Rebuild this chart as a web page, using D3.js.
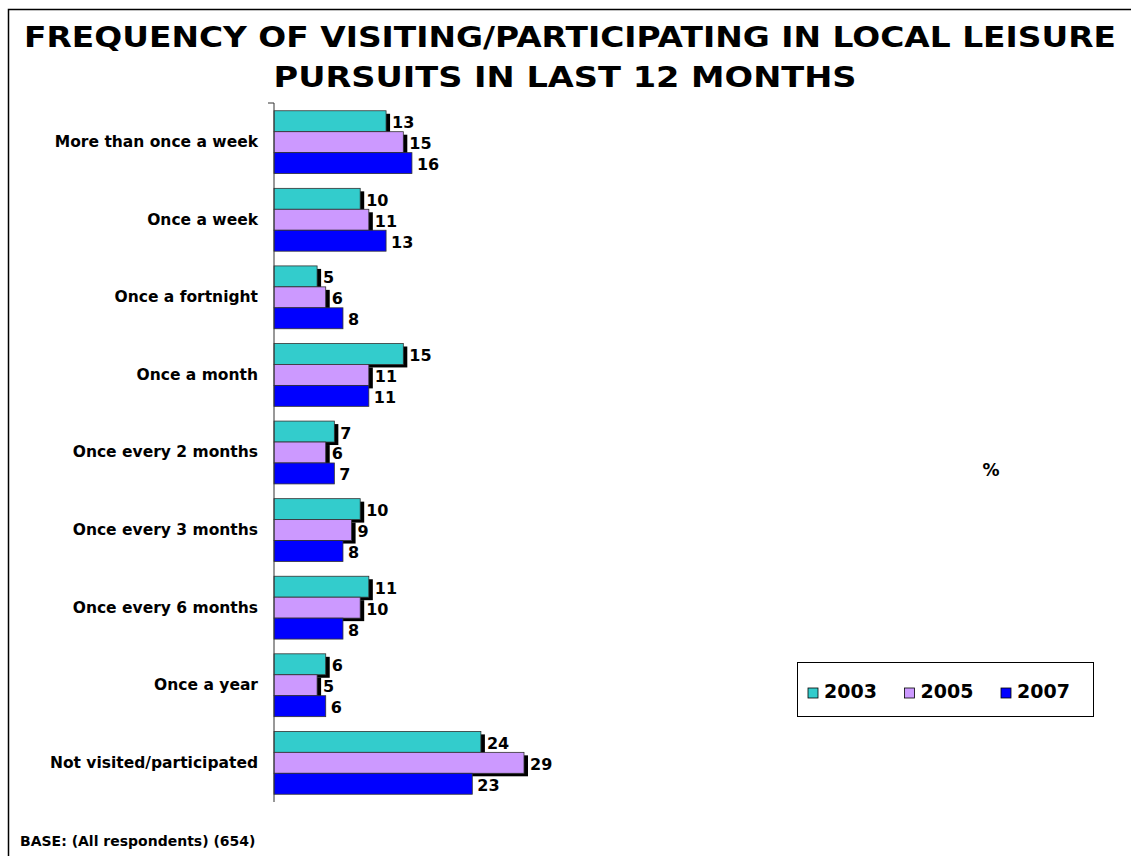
<!DOCTYPE html>
<html>
<head>
<meta charset="utf-8">
<script src="https://cdn.jsdelivr.net/npm/d3@7"></script>
<style>
  body { margin: 0; background: #fff; }
  text { font-family: 'DejaVu Sans', Verdana, sans-serif; font-weight: bold; fill: #000; }
</style>
</head>
<body>
<div id="app"></div>
<script>
/* global d3 */

// Data
const categories = [
  'More than once a week',
  'Once a week',
  'Once a fortnight',
  'Once a month',
  'Once every 2 months',
  'Once every 3 months',
  'Once every 6 months',
  'Once a year',
  'Not visited/participated',
];
const years = ['2003', '2005', '2007'];
const values2003 = [13, 10, 5, 15, 7, 10, 11, 6, 24];
const values2005 = [15, 11, 6, 11, 6, 9, 10, 5, 29];
const values2007 = [16, 13, 8, 11, 7, 8, 8, 6, 23];
const colors = ['#33CCCC', '#CC99FF', '#0000FF'];

// Constants
const width = 1131;
const height = 856;
const axisX = 274;
const plotTop = 103;
const plotBottom = 802;

const series = [values2003, values2005, values2007];

const svg = d3.select('#app')
  .append('svg')
  .attr('width', width)
  .attr('height', height);

// Frame
svg.append('rect')
  .attr('x', 8.5)
  .attr('y', 9.5)
  .attr('width', width)
  .attr('height', height)
  .attr('fill', 'none')
  .attr('stroke', '#000')
  .attr('stroke-width', 1.5);

// Title
svg.append('text')
  .attr('x', 570)
  .attr('y', 47)
  .attr('text-anchor', 'middle')
  .attr('textLength', 1092)
  .attr('lengthAdjust', 'spacingAndGlyphs')
  .style('font-size', '29px')
  .text('FREQUENCY OF VISITING/PARTICIPATING IN LOCAL LEISURE');
svg.append('text')
  .attr('x', 565)
  .attr('y', 87)
  .attr('text-anchor', 'middle')
  .attr('textLength', 583)
  .attr('lengthAdjust', 'spacingAndGlyphs')
  .style('font-size', '29px')
  .text('PURSUITS IN LAST 12 MONTHS');

// Scales
const xScale = d3.scaleLinear()
  .domain([0, 29])
  .range([axisX, 524]);

const yScale = d3.scaleBand()
  .domain(categories)
  .range([plotTop, plotBottom])
  .paddingInner(0.19)
  .paddingOuter(0.1);

const ySub = d3.scaleBand()
  .domain(years)
  .range([0, yScale.bandwidth()]);

// Bars
const groups = svg.append('g')
  .selectAll('g')
  .data(categories)
  .join('g')
  .attr('transform', (d) => `translate(0, ${yScale(d)})`);

// Shadows behind the first two series
years.forEach((yr, s) => {
  if (s < 2) {
    groups.append('rect')
      .attr('x', xScale(0) + 4)
      .attr('y', ySub(yr) + 3)
      .attr('width', (d, i) => xScale(series[s][i]) - xScale(0))
      .attr('height', ySub.bandwidth())
      .attr('fill', '#000');
  }
});

years.forEach((yr, s) => {
  groups.append('rect')
    .attr('x', xScale(0))
    .attr('y', ySub(yr))
    .attr('width', (d, i) => xScale(series[s][i]) - xScale(0))
    .attr('height', ySub.bandwidth())
    .attr('fill', colors[s])
    .attr('stroke', '#333')
    .attr('stroke-width', 0.8);

  groups.append('text')
    .attr('x', (d, i) => xScale(series[s][i]) + (s < 2 ? 6 : 5))
    .attr('y', ySub(yr) + ySub.bandwidth() / 2 + 7)
    .style('font-size', '16px')
    .text((d, i) => series[s][i]);
});

// Axis
const yAxis = d3.axisLeft(yScale).tickSize(0).tickPadding(16);
const axisG = svg.append('g')
  .attr('transform', `translate(${axisX}, 0)`)
  .call(yAxis);
axisG.select('.domain').remove();
axisG.selectAll('text')
  .style('font-size', '15.5px')
  .style('font-family', "'DejaVu Sans', Verdana, sans-serif")
  .style('font-weight', 'bold');
svg.append('path')
  .attr('d', `M${axisX - 6},${plotTop}H${axisX}V${plotBottom}`)
  .attr('fill', 'none')
  .attr('stroke', '#333')
  .attr('stroke-width', 1);

// Percent sign
svg.append('text')
  .attr('x', 991)
  .attr('y', 476)
  .attr('text-anchor', 'middle')
  .style('font-size', '17px')
  .text('%');

// Legend
const legend = svg.append('g')
  .attr('transform', 'translate(797, 662)');
legend.append('rect')
  .attr('x', 0.5)
  .attr('y', 0.5)
  .attr('width', 296)
  .attr('height', 54)
  .attr('fill', '#fff')
  .attr('stroke', '#000');
const legItem = legend.selectAll('g.item')
  .data(years)
  .join('g')
  .attr('class', 'item')
  .attr('transform', (d, i) => `translate(${11 + i * 96.5}, 26)`);
legItem.append('rect')
  .attr('width', 10)
  .attr('height', 10)
  .attr('fill', (d, i) => colors[i])
  .attr('stroke', '#000')
  .attr('stroke-width', 0.8);
legItem.append('text')
  .attr('x', 16)
  .attr('y', 10)
  .style('font-size', '19px')
  .text((d) => d);

// Base note
svg.append('text')
  .attr('x', 20)
  .attr('y', 846)
  .style('font-size', '14px')
  .text('BASE: (All respondents) (654)');
</script>
</body>
</html>
